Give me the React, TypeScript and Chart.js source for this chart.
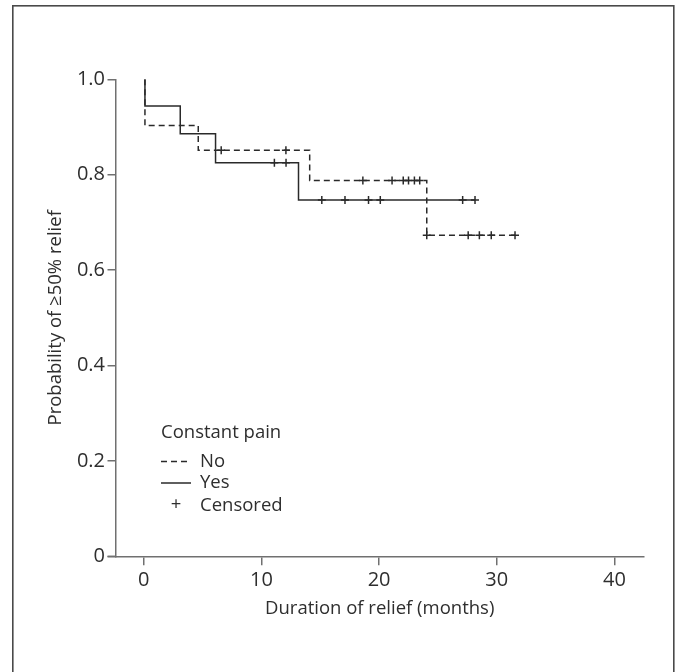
import React, { useEffect, useRef } from 'react';
import { Chart, registerables } from 'chart.js';

Chart.register(...registerables);

// ---- data ----
const xTickValues = [0, 10, 20, 30, 40];
const yTickValues = [0, 0.2, 0.4, 0.6, 0.8, 1.0];

const xTitle = 'Duration of relief (months)';
const yTitle = 'Probability of \u226550% relief';
const legendTitle = 'Constant pain';
const seriesNames = ['No', 'Yes'];
const censoredLabel = 'Censored';

// Kaplan-Meier steps ("No" constant pain = dashed, "Yes" = solid)
const noTimes = [0.1, 0.1, 4.63, 14.1, 24.05, 31.55];
const noSurvival = [1.0, 0.903, 0.851, 0.788, 0.673, 0.673];
const yesTimes = [0.1, 0.1, 3.1, 6.1, 13.15, 28.15];
const yesSurvival = [1.0, 0.944, 0.886, 0.825, 0.747, 0.747];

// Censored observations
const noCensorTimes = [6.58, 12.08, 18.62, 21.1, 22.05, 22.5, 23.0, 23.45, 24.05, 27.57, 28.52, 29.53, 31.55];
const noCensorSurvival = [0.851, 0.851, 0.788, 0.788, 0.788, 0.788, 0.788, 0.788, 0.673, 0.673, 0.673, 0.673, 0.673];
const yesCensorTimes = [11.1, 12.09, 15.13, 17.1, 19.1, 20.1, 27.1, 28.15];
const yesCensorSurvival = [0.825, 0.825, 0.747, 0.747, 0.747, 0.747, 0.747, 0.747];

const FONT = 'Open Sans';
const TEXT = '#2e2e2e';
const LINE = '#2a2a2a';
const AXIS = '#707070';

const toPts = (xs: number[], ys: number[]) => xs.map((x, i) => ({ x, y: ys[i] }));

const framePlugin = {
  id: 'frame',
  beforeDraw(chart: any) {
    const ctx = chart.ctx;
    ctx.save();
    ctx.fillStyle = '#ffffff';
    ctx.fillRect(0, 0, chart.width, chart.height);
    ctx.strokeStyle = '#4a4a4a';
    ctx.lineWidth = 1.6;
    ctx.strokeRect(12.8, 5.8, 661, 720);
    ctx.restore();
  },
  afterDraw(chart: any) {
    const ctx = chart.ctx;
    const { left, bottom } = chart.chartArea;
    ctx.save();
    // x-axis line extends left past the y axis
    ctx.strokeStyle = AXIS;
    ctx.lineWidth = 1.5;
    ctx.beginPath();
    ctx.moveTo(left - 8.5, bottom);
    ctx.lineTo(left, bottom);
    ctx.stroke();

    // legend
    ctx.fillStyle = TEXT;
    ctx.font = `18.5px "${FONT}"`;
    ctx.textBaseline = 'middle';
    ctx.textAlign = 'left';
    ctx.fillText(legendTitle, 161, 433);
    ctx.fillText(seriesNames[0], 200, 461.5);
    ctx.fillText(seriesNames[1], 200, 483);
    ctx.fillText(censoredLabel, 200, 506);
    ctx.textAlign = 'center';
    ctx.fillText('+', 176, 505);

    ctx.strokeStyle = LINE;
    ctx.lineWidth = 1.5;
    ctx.setLineDash([6, 4]);
    ctx.beginPath();
    ctx.moveTo(161, 461.5);
    ctx.lineTo(191, 461.5);
    ctx.stroke();
    ctx.setLineDash([]);
    ctx.beginPath();
    ctx.moveTo(161, 483);
    ctx.lineTo(191, 483);
    ctx.stroke();
    ctx.restore();
  },
};

export default function App() {
  const ref = useRef<HTMLCanvasElement>(null);

  useEffect(() => {
    const canvas = ref.current;
    if (!canvas) return;
    const chart = new Chart(canvas, {
      type: 'line',
      data: {
        datasets: [
          {
            label: seriesNames[0],
            data: toPts(noTimes, noSurvival),
            stepped: true,
            borderColor: LINE,
            borderWidth: 1.5,
            borderDash: [6, 4],
            pointRadius: 0,
            fill: false,
          },
          {
            label: seriesNames[1],
            data: toPts(yesTimes, yesSurvival),
            stepped: true,
            borderColor: LINE,
            borderWidth: 1.5,
            pointRadius: 0,
            fill: false,
          },
          {
            label: censoredLabel + ' ' + seriesNames[0],
            data: toPts(noCensorTimes, noCensorSurvival),
            showLine: false,
            pointStyle: 'cross',
            pointRadius: 4,
            pointBorderWidth: 1.5,
            pointBorderColor: LINE,
            pointBackgroundColor: LINE,
          },
          {
            label: censoredLabel + ' ' + seriesNames[1],
            data: toPts(yesCensorTimes, yesCensorSurvival),
            showLine: false,
            pointStyle: 'cross',
            pointRadius: 4,
            pointBorderWidth: 1.5,
            pointBorderColor: LINE,
            pointBackgroundColor: LINE,
          },
        ],
      } as any,
      options: {
        responsive: false,
        animation: false,
        devicePixelRatio: 1,
        layout: { padding: { top: 79.3, right: 34.6, left: 0, bottom: 0 } },
        plugins: {
          legend: { display: false },
          tooltip: { enabled: false },
        },
        scales: {
          x: {
            type: 'linear',
            min: -2.36,
            max: 42.46,
            afterBuildTicks: (s: any) => {
              s.ticks = xTickValues.map((v) => ({ value: v }));
            },
            afterFit: (s: any) => {
              s.height = 115.7;
            },
            grid: {
              drawOnChartArea: false,
              drawTicks: true,
              tickLength: 9,
              color: AXIS,
              lineWidth: 1.5,
            },
            border: { display: true, color: AXIS, width: 1.5 },
            ticks: {
              padding: 3.3,
              color: TEXT,
              font: { family: FONT, size: 20 },
              maxRotation: 0,
              autoSkip: false,
              callback: (v: any) => String(v),
            },
            title: {
              display: true,
              text: xTitle,
              color: TEXT,
              font: { family: FONT, size: 18.5 },
              padding: { top: 0, bottom: 52.2 },
            },
          },
          y: {
            type: 'linear',
            min: 0,
            max: 1,
            afterBuildTicks: (s: any) => {
              s.ticks = yTickValues.map((v) => ({ value: v }));
            },
            afterFit: (s: any) => {
              s.width = 116;
            },
            grid: {
              drawOnChartArea: false,
              drawTicks: true,
              tickLength: 8.5,
              color: AXIS,
              lineWidth: 1.5,
            },
            border: { display: true, color: AXIS, width: 1.5 },
            ticks: {
              padding: 2.5,
              color: TEXT,
              font: { family: FONT, size: 20 },
              callback: (v: any) => (Number(v) === 0 ? '0' : Number(v).toFixed(1)),
            },
            title: {
              display: true,
              text: yTitle,
              color: TEXT,
              font: { family: FONT, size: 18.5 },
              padding: { top: 44.9, bottom: 0 },
            },
          },
        },
      } as any,
      plugins: [framePlugin],
    });
    return () => chart.destroy();
  }, []);

  return (
    <div style={{ position: 'absolute', left: 0, top: 0, width: 678, height: 672, background: '#fff' }}>
      <canvas ref={ref} width={678} height={672} style={{ display: 'block', width: 678, height: 672 }} />
    </div>
  );
}
